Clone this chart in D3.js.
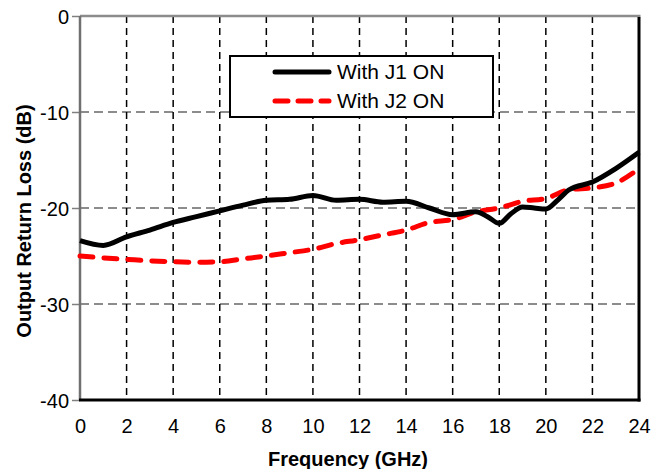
<!DOCTYPE html>
<html><head><meta charset="utf-8">
<script src="https://cdn.jsdelivr.net/npm/d3@7"></script>
<style>body{margin:0;background:#fff}svg{display:block;font-family:"Liberation Sans",Arial,sans-serif}</style>
</head><body><svg id="c" width="667" height="469"></svg>
<script>
const xTicks = [0,2,4,6,8,10,12,14,16,18,20,22,24];
const yTicks = [0,-10,-20,-30,-40];
const j1Freq = [0,1,2,3,4,5,6,7,8,9,10,11,12,13,14,15,16,17,17.5,18,18.5,19,19.5,20,20.5,21,22,23,24];
const j1Vals = [-23.4,-23.9,-23.0,-22.3,-21.5,-20.9,-20.3,-19.7,-19.2,-19.1,-18.7,-19.2,-19.1,-19.4,-19.3,-20.0,-20.7,-20.4,-20.9,-21.6,-20.6,-19.9,-20.0,-20.1,-19.2,-18.1,-17.3,-15.9,-14.2];
const j2Freq = [0,1,2,3,4,5,6,7,8,9,10,11,12,13,14,15,16,17,18,19,20,21,22,23,24];
const j2Vals = [-25.0,-25.2,-25.35,-25.5,-25.6,-25.65,-25.6,-25.3,-25.0,-24.65,-24.3,-23.7,-23.3,-22.8,-22.3,-21.5,-21.2,-20.4,-20.0,-19.3,-19.0,-18.1,-17.9,-17.4,-15.9];
const seriesNames = ["With J1 ON","With J2 ON"];

const svg = d3.select("#c");
const L=80, R=639, T=16, B=400;
const x = d3.scaleLinear().domain([0,24]).range([L,R]);
const y = d3.scaleLinear().domain([-40,0]).range([B,T]);

// horizontal gridlines
svg.append("g").selectAll("line").data(yTicks.filter(v=>v>-40&&v<0)).join("line")
  .attr("x1",L).attr("x2",R).attr("y1",d=>y(d)).attr("y2",d=>y(d))
  .attr("stroke","#8c8c8c").attr("stroke-width",2).attr("stroke-dasharray","9,5");
// vertical gridlines
svg.append("g").selectAll("line").data(xTicks.filter(v=>v>0&&v<24)).join("line")
  .attr("x1",d=>x(d)).attr("x2",d=>x(d)).attr("y1",T).attr("y2",B)
  .attr("stroke","#000").attr("stroke-width",1.5).attr("stroke-dasharray","7,5");

// y axis
const yAxis = svg.append("g").attr("transform",`translate(${L},0)`)
  .call(d3.axisLeft(y).tickValues(yTicks).tickSize(8).tickPadding(3).tickFormat(d=>String(d)));
yAxis.select(".domain").remove();
yAxis.selectAll(".tick line").attr("stroke","#808080").attr("stroke-width",1.5);
yAxis.selectAll(".tick text").attr("font-size",20).attr("fill","#000").attr("dy","0.35em").attr("font-family","Liberation Sans, Arial, sans-serif");

// x axis labels
const xAxis = svg.append("g").attr("transform",`translate(0,${B})`)
  .call(d3.axisBottom(x).tickValues(xTicks).tickSize(0).tickPadding(19).tickFormat(d=>String(d)));
xAxis.select(".domain").remove();
xAxis.selectAll(".tick text").attr("font-size",20).attr("fill","#000").attr("font-family","Liberation Sans, Arial, sans-serif");

// frame
svg.append("line").attr("x1",L).attr("x2",R+1.5).attr("y1",T).attr("y2",T).attr("stroke","#8c8c8c").attr("stroke-width",2.5);
svg.append("line").attr("x1",L).attr("x2",L).attr("y1",T).attr("y2",B).attr("stroke","#707070").attr("stroke-width",2.5);
svg.append("line").attr("x1",R).attr("x2",R).attr("y1",T+1).attr("y2",B+1.5).attr("stroke","#000").attr("stroke-width",3);
svg.append("line").attr("x1",L-1).attr("x2",R+1.5).attr("y1",B).attr("y2",B).attr("stroke","#000").attr("stroke-width",3);

// lines
const line = d3.line().x(d=>x(d[0])).y(d=>y(d[1])).curve(d3.curveMonotoneX);
svg.append("path").datum(d3.zip(j2Freq,j2Vals)).attr("d",line)
  .attr("fill","none").attr("stroke","#ff0000").attr("stroke-width",5)
  .attr("stroke-dasharray","13,11").attr("stroke-linecap","round");
svg.append("path").datum(d3.zip(j1Freq,j1Vals)).attr("d",line)
  .attr("fill","none").attr("stroke","#000").attr("stroke-width",5).attr("stroke-linejoin","round");

// legend
const lg = svg.append("g");
lg.append("rect").attr("x",230).attr("y",56).attr("width",263).attr("height",61)
  .attr("fill","#fff").attr("stroke","#000").attr("stroke-width",2);
lg.append("line").attr("x1",275).attr("x2",329).attr("y1",72).attr("y2",72)
  .attr("stroke","#000").attr("stroke-width",5).attr("stroke-linecap","round");
lg.append("line").attr("x1",275).attr("x2",329).attr("y1",101).attr("y2",101)
  .attr("stroke","#ff0000").attr("stroke-width",5).attr("stroke-dasharray","13,10").attr("stroke-linecap","round");
lg.selectAll("text").data(seriesNames).join("text")
  .attr("x",337).attr("y",(d,i)=>72+i*29).attr("dy","0.35em")
  .attr("font-size",21).attr("fill","#000").text(d=>d);

// axis titles
svg.append("text").attr("x",348).attr("y",466).attr("text-anchor","middle")
  .attr("font-size",20).attr("font-weight","bold").text("Frequency (GHz)");
svg.append("text").attr("transform","translate(31,221) rotate(-90)").attr("text-anchor","middle")
  .attr("font-size",20).attr("font-weight","bold").text("Output Return Loss (dB)");
</script></body></html>
